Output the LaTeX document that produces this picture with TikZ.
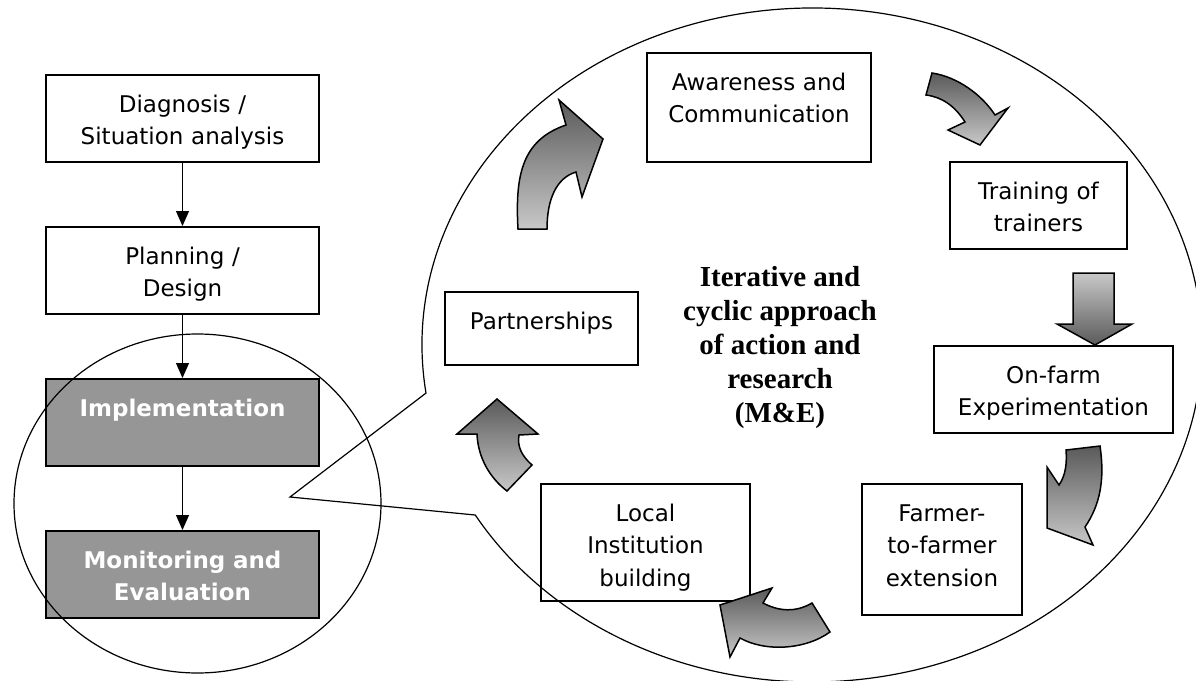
\documentclass[tikz,border=0pt]{standalone}
\usepackage{fontspec}
\newfontfamily\boxfont{DejaVu Sans}
\newfontfamily\midfont{Liberation Serif}
\usetikzlibrary{arrows.meta}

\definecolor{boxgray}{HTML}{969696}
\definecolor{arrdark}{HTML}{5A5A5A}
\definecolor{arrlight}{HTML}{C8C8C8}

\begin{document}
\begin{tikzpicture}[x=0.5pt,y=-0.5pt,
    box/.style={draw,line width=1pt,align=center,inner sep=0pt,
      text height=18.5pt,font=\boxfont\fontsize{11.5}{16.3}\selectfont},
    dark/.style={box,fill=boxgray,text=white,
      font=\boxfont\bfseries\fontsize{11.5}{16.3}\selectfont},
    flow/.style={-{Triangle[width=6.5pt,length=7.5pt]},line width=0.5pt},
    grayarrow/.style={draw,line width=0.75pt,top color=arrdark,bottom color=arrlight},
    grayarrowdown/.style={draw,line width=0.75pt,top color=arrlight,bottom color=arrdark}]
        \path[use as bounding box,fill=white] (0,0) rectangle (1196,681);
        % the callout oval
        \coordinate (tip) at (290,497);
        \draw[line width=0.6pt] (812,345) ++(171.8:390 and 337)
          arc[start angle=171.8,end angle=509.7,x radius=390,y radius=337]
          -- (tip) -- cycle;
        % left column
        \node[box,anchor=north,text width=136.5pt,text depth=25pt] (diag) at (182.5,74) {Diagnosis /\\Situation analysis};
        \node[box,anchor=north,text width=136.5pt,text depth=25pt] (plan) at (182.5,226) {Planning /\\Design};
        \node[dark,anchor=north,text width=136.5pt,text depth=25pt] (impl) at (182.5,378) {Implementation};
        \node[dark,anchor=north,text width=136.5pt,text depth=25pt] (monit) at (182.5,530) {Monitoring and\\Evaluation};
        \draw[flow] (diag) -- (plan);
        \draw[flow] (plan) -- (impl);
        \draw[flow] (impl) -- (monit);
        \draw[line width=0.6pt] (197.5,503.5) ellipse [x radius=183.5,y radius=169.5];
        % the cycle
        \node[box,anchor=north,text width=112pt,text depth=36pt] (aware) at (759,52) {Awareness and\\Communication};
        \node[box,anchor=north,text width=88.5pt,text depth=25pt] (train) at (1038.5,161) {Training of\\trainers};
        \node[box,anchor=north,text width=119.5pt,text depth=25pt] (onfarm) at (1053.5,345) {On-farm\\Experimentation};
        \node[box,anchor=north,text width=80pt,text depth=47pt] (farmer) at (942,483) {Farmer-\\to-farmer\\extension};
        \node[box,anchor=north,text width=104.5pt,text depth=40pt] (local) at (645.5,483) {Local\\Institution\\building};
        \node[box,anchor=north,text width=96.5pt,text depth=18pt] (partner) at (541.5,291) {Partnerships};
        \node[align=center,font=\midfont\bfseries\fontsize{14.5}{17}\selectfont] (core) at (780,348)
          {Iterative and\\cyclic approach\\of action and\\research\\(M\&E)};
        % curved arrows
        \draw[grayarrow] (518,229) .. controls (515,175) and (522,140) .. (566,125) -- (559,100)
          -- (603,139) -- (582,197) -- (576,172) .. controls (556,178) and (547,200) .. (547,229) -- cycle;
        \draw[grayarrow] (932,73) .. controls (958,77) and (982,95) .. (995,115) -- (1008,108)
          -- (980,145) -- (948,130) -- (965,122) .. controls (955,106) and (942,97) .. (926,95) -- cycle;
        \draw[grayarrowdown] (1073,273) -- (1114,273) -- (1114,324) -- (1132,324) -- (1095,345)
          -- (1057,324) -- (1073,324) -- cycle;
        \draw[grayarrow] (1066,450) -- (1100,446) .. controls (1105,480) and (1100,505) .. (1085,527)
          -- (1093,545) -- (1047,528) -- (1047,467) -- (1059,485) .. controls (1066,475) and (1067,462) .. (1066,450) -- cycle;
        \draw[grayarrow] (812,603) .. controls (795,613) and (778,611) .. (763,603) -- (772,588)
          -- (720,605) -- (730,657) -- (740,638) .. controls (765,652) and (805,650) .. (830,632) -- cycle;
        \draw[grayarrow] (497,399) -- (538,434) -- (519,435) .. controls (517,447) and (522,456) .. (532,465)
          -- (507,491) .. controls (490,478) and (478,458) .. (477,434) -- (457,434) -- cycle;
\end{tikzpicture}
\end{document}
